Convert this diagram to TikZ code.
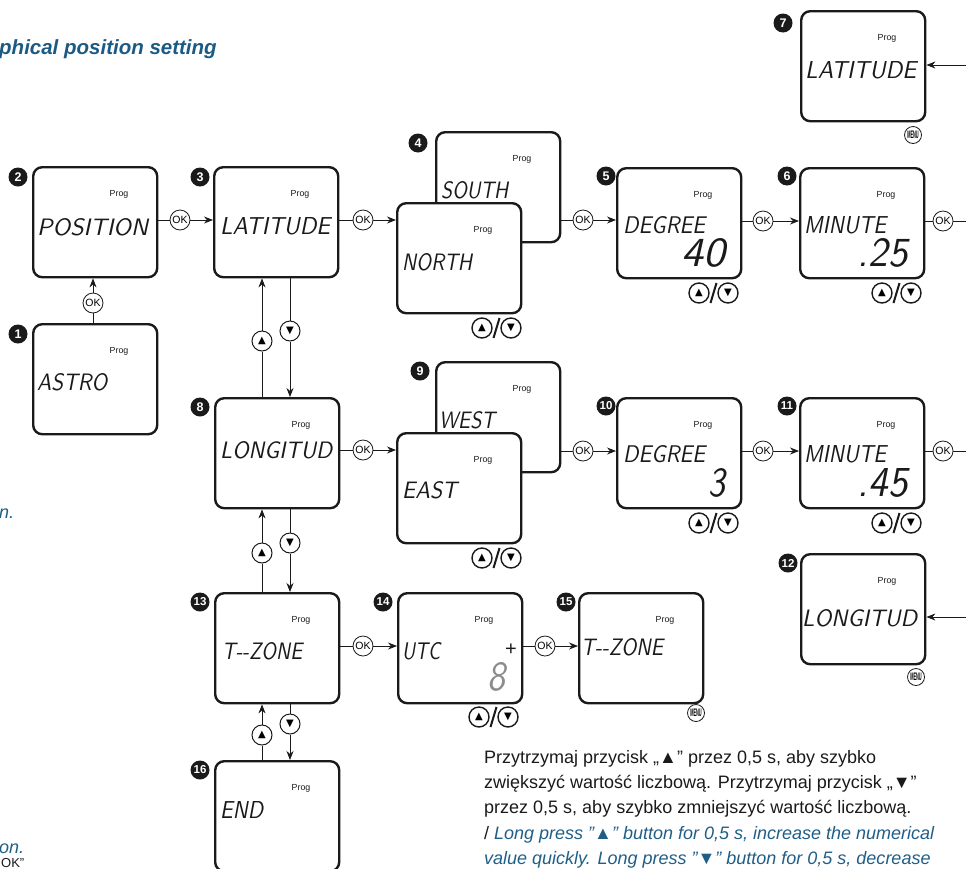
\documentclass[tikz,border=0pt]{standalone}
\usepackage{fontspec}
\usepackage{graphicx}
\setmainfont{Liberation Sans}
\newfontfamily\symfont{DejaVu Sans}
\usetikzlibrary{arrows.meta,calc}
\definecolor{engblue}{HTML}{1F5E87}
\definecolor{titleblue}{HTML}{1B5A84}
\definecolor{ink}{HTML}{1A1A1A}
\definecolor{lcdgray}{HTML}{8C8C8C}
\newcommand\lcdtxt[2]{\resizebox{#1pt}{17pt}{\sffamily\slshape #2}}
\newcommand\bigdig[2]{\resizebox{#1pt}{28pt}{\sffamily\slshape #2}}
\newcommand\tup{{\symfont\fontsize{10}{10}\selectfont ▲}}
\newcommand\tdn{{\symfont\fontsize{10}{10}\selectfont ▼}}
\newcommand\menutxt{\resizebox{11.5pt}{7.5pt}{\bfseries MENU}}
\newcommand\updown[3]{%
  \node[arrbtn] (#1u) at (#2,#3) {\tup};
  \node[arrbtn] (#1d) at (#2+29,#3) {\tdn};
  \draw[slash] ($(#1u)!0.5!(#1d)+(-3,10)$) -- ($(#1u)!0.5!(#1d)+(3,-10)$);}
\begin{document}
\begin{tikzpicture}[x=1pt,y=-1pt,
  screen/.style={draw=ink, line width=2.4pt, rounded corners=9pt, fill=white,
    minimum width=124pt, minimum height=110pt, anchor=north west, inner sep=0pt},
  prog/.style={font=\fontsize{8.8}{9}\selectfont, inner sep=0pt, text=ink},
  lcd/.style={anchor=west, inner sep=0pt, text=ink},
  bignum/.style={anchor=east, inner sep=0pt, text=ink},
  badge/.style={circle, fill=ink, text=white, font=\bfseries\fontsize{12.5}{12.5}\selectfont,
    minimum size=19pt, inner sep=0pt},
  okbtn/.style={circle, draw=ink, line width=0.8pt, fill=white, minimum size=20pt,
    inner sep=0pt, font=\fontsize{10.5}{10.5}\selectfont},
  arrbtn/.style={circle, draw=ink, line width=1.4pt, fill=white, minimum size=20pt, inner sep=0pt},
  menubtn/.style={circle, draw=ink, line width=0.8pt, fill=white, minimum size=17pt, inner sep=0pt},
  conn/.style={draw=ink, line width=0.8pt},
  arr/.style={conn, -{Stealth[length=9pt,width=7pt]}},
  slash/.style={draw=ink, line width=2pt},
  side/.style={inner sep=0pt, font=\fontsize{18}{20}\selectfont\itshape, text=engblue}
  ]
\useasboundingbox (0,0) rectangle (966,868);

% ---- title and cut-off side texts
\node[anchor=west, inner sep=0pt, text=titleblue, font=\fontsize{20.5}{22}\selectfont\bfseries\itshape] (title) at (-1,49) {phical position setting};
\node[side, anchor=west] (sideA) at (-1,514) {n.};
\node[side, anchor=west] (sideB) at (-1,849) {on.};
\node[inner sep=0pt, anchor=base west, text=ink, font=\fontsize{13}{14}\selectfont] (sideC) at (1,867) {OK”};

% ---- screens
\node[screen] (b1) at (32,323) {};
\node[screen] (b2) at (32,166) {};
\node[screen] (b3) at (213,166) {};
\node[screen] (b4b) at (435,131) {};
\node[screen] (b5) at (616,167) {};
\node[screen] (b6) at (799,167) {};
\node[screen] (b7) at (800,10) {};
\node[screen] (b8) at (214,397) {};
\node[screen] (b9b) at (435,361) {};
\node[screen] (b10) at (616,397) {};
\node[screen] (b11) at (799,397) {};
\node[screen] (b12) at (800,553) {};
\node[screen] (b13) at (214,592) {};
\node[screen] (b14) at (397,592) {};
\node[screen] (b15) at (578,592) {};
\node[screen] (b16) at (214,760) {};

% ---- "Prog" labels
\foreach \b in {b1,b2,b3,b4b,b5,b6,b7,b8,b9b,b10,b11,b12,b13,b14,b15,b16}{
  \node[prog] (p-\b) at ($(\b.north west)+(87,28)$) {Prog};
}
% front boxes drawn over the back boxes
\node[screen] (b4f) at (396,202) {};
\node[prog] (p-b4f) at ($(b4f.north west)+(87,28)$) {Prog};
\node[screen] (b9f) at (396,432) {};
\node[prog] (p-b9f) at ($(b9f.north west)+(87,28)$) {Prog};

% ---- LCD texts
\node[lcd] (t1) at (37,382) {\lcdtxt{70}{ASTRO}};
\node[lcd] (t2) at (37,227) {\lcdtxt{111}{POSITION}};
\node[lcd] (t3) at (220,226) {\lcdtxt{110}{LATITUDE}};
\node[lcd] (t4b) at (441,190) {\lcdtxt{67}{SOUTH}};
\node[lcd] (t4) at (402,262) {\lcdtxt{70}{NORTH}};
\node[lcd] (t5) at (623,225) {\lcdtxt{82}{DEGREE}};
\node[lcd] (t6) at (804,225) {\lcdtxt{82}{MINUTE}};
\node[lcd] (t7) at (805,70) {\lcdtxt{111}{LATITUDE}};
\node[lcd] (t8) at (220,450) {\lcdtxt{112}{LONGITUD}};
\node[lcd] (t9b) at (439,420) {\lcdtxt{56}{WEST}};
\node[lcd] (t9) at (402,490) {\lcdtxt{55}{EAST}};
\node[lcd] (t10) at (623,454) {\lcdtxt{82}{DEGREE}};
\node[lcd] (t11) at (804,454) {\lcdtxt{82}{MINUTE}};
\node[lcd] (t12) at (802,618) {\lcdtxt{115}{LONGITUD}};
\node[lcd] (t13) at (222,651) {\lcdtxt{80}{T-{}-ZONE}};
\node[lcd] (t14) at (402,651) {\lcdtxt{38}{UTC}};
\node[lcd] (t15) at (581,647) {\lcdtxt{82}{T-{}-ZONE}};
\node[lcd] (t16) at (220,810) {\lcdtxt{43}{END}};

\node[bignum] (n5) at (726,253) {\bigdig{44}{40}};
\node[bignum] (n6) at (908,253) {\bigdig{50}{.25}};
\node[bignum] (n10) at (726,483) {\bigdig{17}{3}};
\node[bignum] (n11) at (908,483) {\bigdig{50}{.45}};
\node[bignum, text=lcdgray] (n14) at (506,677) {\bigdig{18}{8}};
\node[inner sep=0pt, text=ink, font=\fontsize{20}{20}\selectfont] (plus14) at (511,650) {+};

% ---- badges
\node[badge] (c1) at (18,334) {1};
\node[badge] (c2) at (18,177) {2};
\node[badge] (c3) at (200,177) {3};
\node[badge] (c4) at (418,143) {4};
\node[badge] (c5) at (606,176) {5};
\node[badge] (c6) at (787,176) {6};
\node[badge] (c7) at (783,23) {7};
\node[badge] (c8) at (200,407) {8};
\node[badge] (c9) at (420,371) {9};
\node[badge, font=\bfseries\fontsize{11.5}{11.5}\selectfont] (c10) at (606,406) {10};
\node[badge, font=\bfseries\fontsize{11.5}{11.5}\selectfont] (c11) at (787,406) {11};
\node[badge, font=\bfseries\fontsize{11.5}{11.5}\selectfont] (c12) at (788,563) {12};
\node[badge, font=\bfseries\fontsize{11.5}{11.5}\selectfont] (c13) at (200,602) {13};
\node[badge, font=\bfseries\fontsize{11.5}{11.5}\selectfont] (c14) at (383,602) {14};
\node[badge, font=\bfseries\fontsize{11.5}{11.5}\selectfont] (c15) at (566,602) {15};
\node[badge, font=\bfseries\fontsize{11.5}{11.5}\selectfont] (c16) at (200,770) {16};

% ---- OK buttons
\node[okbtn] (ok12) at (93,303) {OK};
\node[okbtn] (ok23) at (180,220) {OK};
\node[okbtn] (ok34) at (363,220) {OK};
\node[okbtn] (ok45) at (583,220) {OK};
\node[okbtn] (ok56) at (763,221) {OK};
\node[okbtn] (ok6x) at (943,221) {OK};
\node[okbtn] (ok89) at (363,450) {OK};
\node[okbtn] (ok910) at (583,451) {OK};
\node[okbtn] (ok1011) at (763,451) {OK};
\node[okbtn] (ok11x) at (943,451) {OK};
\node[okbtn] (ok1314) at (363,646) {OK};
\node[okbtn] (ok1415) at (545,646) {OK};

% ---- MENU buttons
\node[menubtn] (m7) at (913,135) {\menutxt};
\node[menubtn] (m12) at (916,677) {\menutxt};
\node[menubtn] (m15) at (696,713) {\menutxt};

% ---- up/down pairs
\updown{ud4}{482}{328}
\updown{ud9}{482}{558}
\updown{ud5}{699}{293}
\updown{ud6}{882}{293}
\updown{ud10}{699}{523}
\updown{ud11}{882}{523}
\updown{ud14}{479}{717}

% ---- vertical navigation buttons
\node[arrbtn, line width=1pt] (up38) at (262,341) {\tup};
\node[arrbtn, line width=1pt] (dn38) at (290,331) {\tdn};
\node[arrbtn, line width=1pt] (up813) at (262,553) {\tup};
\node[arrbtn, line width=1pt] (dn813) at (290,543) {\tdn};
\node[arrbtn, line width=1pt] (up1316) at (262,735) {\tup};
\node[arrbtn, line width=1pt] (dn1316) at (290,724) {\tdn};

% ---- connectors
\draw[conn] (ok12.south) -- (ok12.south |- b1.north);
\draw[arr] (ok12.north) -- (ok12.north |- b2.south);
\draw[conn] (ok23.west) -- (ok23.west -| b2.east);
\draw[arr] (ok23.east) -- (ok23.east -| b3.west);
\draw[conn] (ok34.west) -- (ok34.west -| b3.east);
\draw[arr] (ok34.east) -- (ok34.east -| b4f.west);
\draw[conn] (ok45.west) -- (ok45.west -| b4b.east);
\draw[arr] (ok45.east) -- (ok45.east -| b5.west);
\draw[conn] (ok56.west) -- (ok56.west -| b5.east);
\draw[arr] (ok56.east) -- (ok56.east -| b6.west);
\draw[conn] (ok6x.west) -- (ok6x.west -| b6.east);
\coordinate (x6) at (975,221);
\draw[conn] (ok6x.east) -- (x6);
\coordinate (x7) at (975,65);
\draw[arr] (x7) -- (x7 -| b7.east);

\draw[conn] (ok89.west) -- (ok89.west -| b8.east);
\draw[arr] (ok89.east) -- (ok89.east -| b9f.west);
\draw[conn] (ok910.west) -- (ok910.west -| b9b.east);
\draw[arr] (ok910.east) -- (ok910.east -| b10.west);
\draw[conn] (ok1011.west) -- (ok1011.west -| b10.east);
\draw[arr] (ok1011.east) -- (ok1011.east -| b11.west);
\draw[conn] (ok11x.west) -- (ok11x.west -| b11.east);
\coordinate (x11) at (975,451);
\draw[conn] (ok11x.east) -- (x11);
\coordinate (x12) at (975,617);
\draw[arr] (x12) -- (x12 -| b12.east);

\draw[conn] (ok1314.west) -- (ok1314.west -| b13.east);
\draw[arr] (ok1314.east) -- (ok1314.east -| b14.west);
\draw[conn] (ok1415.west) -- (ok1415.west -| b14.east);
\draw[arr] (ok1415.east) -- (ok1415.east -| b15.west);

\draw[conn] (up38.south) -- (up38.south |- b8.north);
\draw[arr] (up38.north) -- (up38.north |- b3.south);
\draw[conn] (dn38.north) -- (dn38.north |- b3.south);
\draw[arr] (dn38.south) -- (dn38.south |- b8.north);
\draw[conn] (up813.south) -- (up813.south |- b13.north);
\draw[arr] (up813.north) -- (up813.north |- b8.south);
\draw[conn] (dn813.north) -- (dn813.north |- b8.south);
\draw[arr] (dn813.south) -- (dn813.south |- b13.north);
\draw[conn] (up1316.south) -- (up1316.south |- b16.north);
\draw[arr] (up1316.north) -- (up1316.north |- b13.south);
\draw[conn] (dn1316.north) -- (dn1316.north |- b13.south);
\draw[arr] (dn1316.south) -- (dn1316.south |- b16.north);

% ---- note
\node[anchor=north west, align=left, inner sep=0pt, text=ink,
  font=\fontsize{18}{25.3}\selectfont] (note) at (484,750)
  {Przytrzymaj przycisk „▲” przez 0,5 s, aby szybko\\
   zwiększyć wartość liczbową. Przytrzymaj przycisk „▼”\\
   przez 0,5 s, aby szybko zmniejszyć wartość liczbową.\\
   / \textcolor{engblue}{\itshape Long press "▲" button for 0,5 s, increase the numerical}\\
   \textcolor{engblue}{\itshape value quickly. Long press "▼" button for 0,5 s, decrease}};
\end{tikzpicture}
\end{document}
